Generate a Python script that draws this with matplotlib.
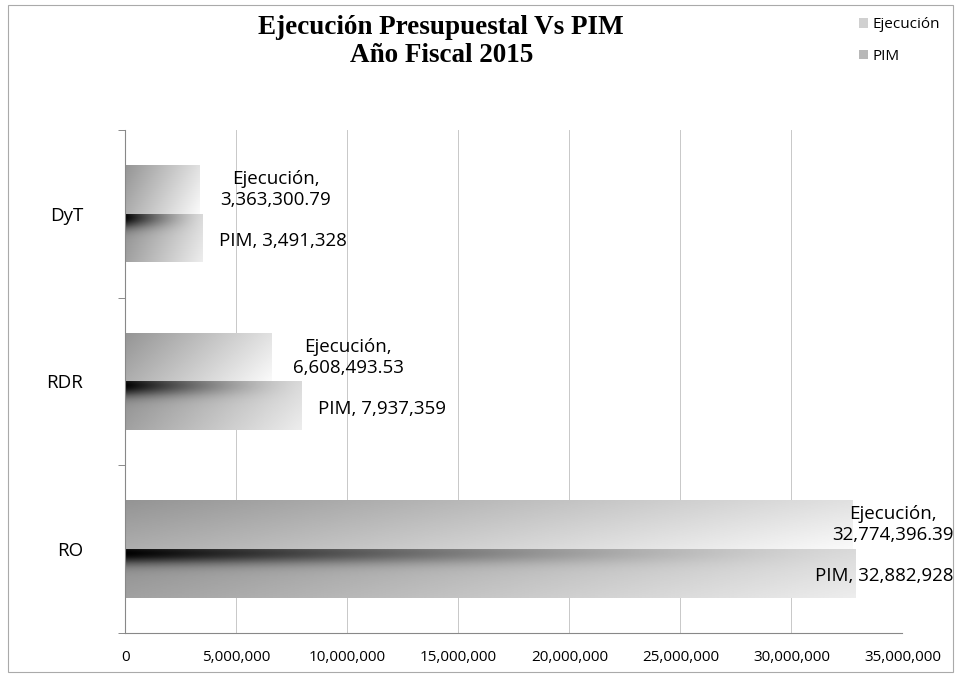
import matplotlib.pyplot as plt
import numpy as np
from matplotlib.patches import Patch, Rectangle
from matplotlib.ticker import FuncFormatter

# data
categories = ['DyT', 'RDR', 'RO']
ejecucion = [3363300.79, 6608493.53, 32774396.39]
pim = [3491328, 7937359, 32882928]
ejec_labels = ['Ejecución,\n3,363,300.79', 'Ejecución,\n6,608,493.53', 'Ejecución,\n32,774,396.39']
pim_labels = ['PIM, 3,491,328', 'PIM, 7,937,359', 'PIM, 32,882,928']

plt.rcParams['font.family'] = ['Open Sans', 'DejaVu Sans']

fig = plt.figure(figsize=(9.55, 6.74), dpi=100)
ax = fig.add_axes([0.131, 0.061, 0.814, 0.746])

y = np.arange(len(categories))[::-1]
h = 0.29
bars_e = ax.barh(y + h / 2, ejecucion, height=h, color='none', edgecolor='none')
bars_p = ax.barh(y - h / 2, pim, height=h, color='none', edgecolor='none')

# gradient fills, clipped to each bar
xx, yy = np.meshgrid(np.linspace(0, 1, 200), np.linspace(0, 1, 60))
grad_e = 0.58 + 0.3 * xx + 0.1 * yy
grad_p = 0.55 + 0.3 * xx + 0.08 * yy - 0.55 * np.exp(-((yy - 0.08) / 0.22) ** 2) * (1 - xx) ** 1.6
for bars, g in ((bars_e, grad_e), (bars_p, grad_p)):
    for b in bars:
        x0, y0, w, hh = b.get_x(), b.get_y(), b.get_width(), b.get_height()
        im = ax.imshow(g, cmap='gray', vmin=0, vmax=1, aspect='auto',
                       extent=[x0, x0 + w, y0, y0 + hh], origin='upper', zorder=2,
                       interpolation='bilinear')
        im.set_clip_path(b)

ax.set_xlim(0, 35000000)
ax.set_ylim(-0.5, 2.5)
ax.set_xticks(np.arange(0, 35000001, 5000000))
ax.xaxis.set_major_formatter(FuncFormatter(lambda v, p: f'{int(v):,}'))
ax.set_yticks(y)
ax.set_yticklabels(categories, fontsize=13.5)
ax.set_yticks([-0.5, 0.5, 1.5, 2.5], minor=True)
ax.tick_params(axis='y', which='major', length=0, pad=30)
ax.tick_params(axis='y', which='minor', length=5, color='#777777', direction='out')
ax.tick_params(axis='x', length=0, labelsize=11, pad=12)
ax.grid(axis='x', color='#c8c8c8', linewidth=0.7)
ax.set_axisbelow(True)
for s in ['top', 'right']:
    ax.spines[s].set_visible(False)
ax.spines['left'].set_color('#888888')
ax.spines['bottom'].set_color('#888888')

# data labels
for i in range(len(categories)):
    if ejecucion[i] > 25000000:
        ax.annotate(ejec_labels[i], (1.0, y[i] + h / 2), xycoords=('figure fraction', 'data'),
                    xytext=(-1, 0), textcoords='offset points', ha='right', va='center',
                    multialignment='center', fontsize=13.5)
        ax.annotate(pim_labels[i], (1.0, y[i] - h / 2), xycoords=('figure fraction', 'data'),
                    xytext=(-1, -2), textcoords='offset points', ha='right', va='center',
                    fontsize=13.5)
    else:
        ax.annotate(ejec_labels[i], (ejecucion[i], y[i] + h / 2), xytext=(15, 0),
                    textcoords='offset points', ha='left', va='center',
                    multialignment='center', fontsize=13.5)
        ax.annotate(pim_labels[i], (pim[i], y[i] - h / 2), xytext=(12, -2),
                    textcoords='offset points', ha='left', va='center', fontsize=13.5)

fig.text(0.462, 0.939, 'Ejecución Presupuestal Vs PIM\nAño Fiscal 2015', ha='center', va='center',
         fontsize=19.5, fontweight='bold', family='Liberation Serif', linespacing=1.15)

handles = [Patch(facecolor='#d0d0d0', edgecolor='none'), Patch(facecolor='#b8b8b8', edgecolor='none')]
fig.legend(handles, ['Ejecución', 'PIM'], loc='upper left', bbox_to_anchor=(0.885, 0.995),
           frameon=False, fontsize=11, handlelength=0.6, handleheight=0.6,
           handletextpad=0.3, labelspacing=1.1)

fig.patches.append(Rectangle((0.008, 0.003), 0.99, 0.99, transform=fig.transFigure,
                             fill=False, edgecolor='#aaaaaa', linewidth=0.8))

fig.savefig('out.png', dpi=100)
